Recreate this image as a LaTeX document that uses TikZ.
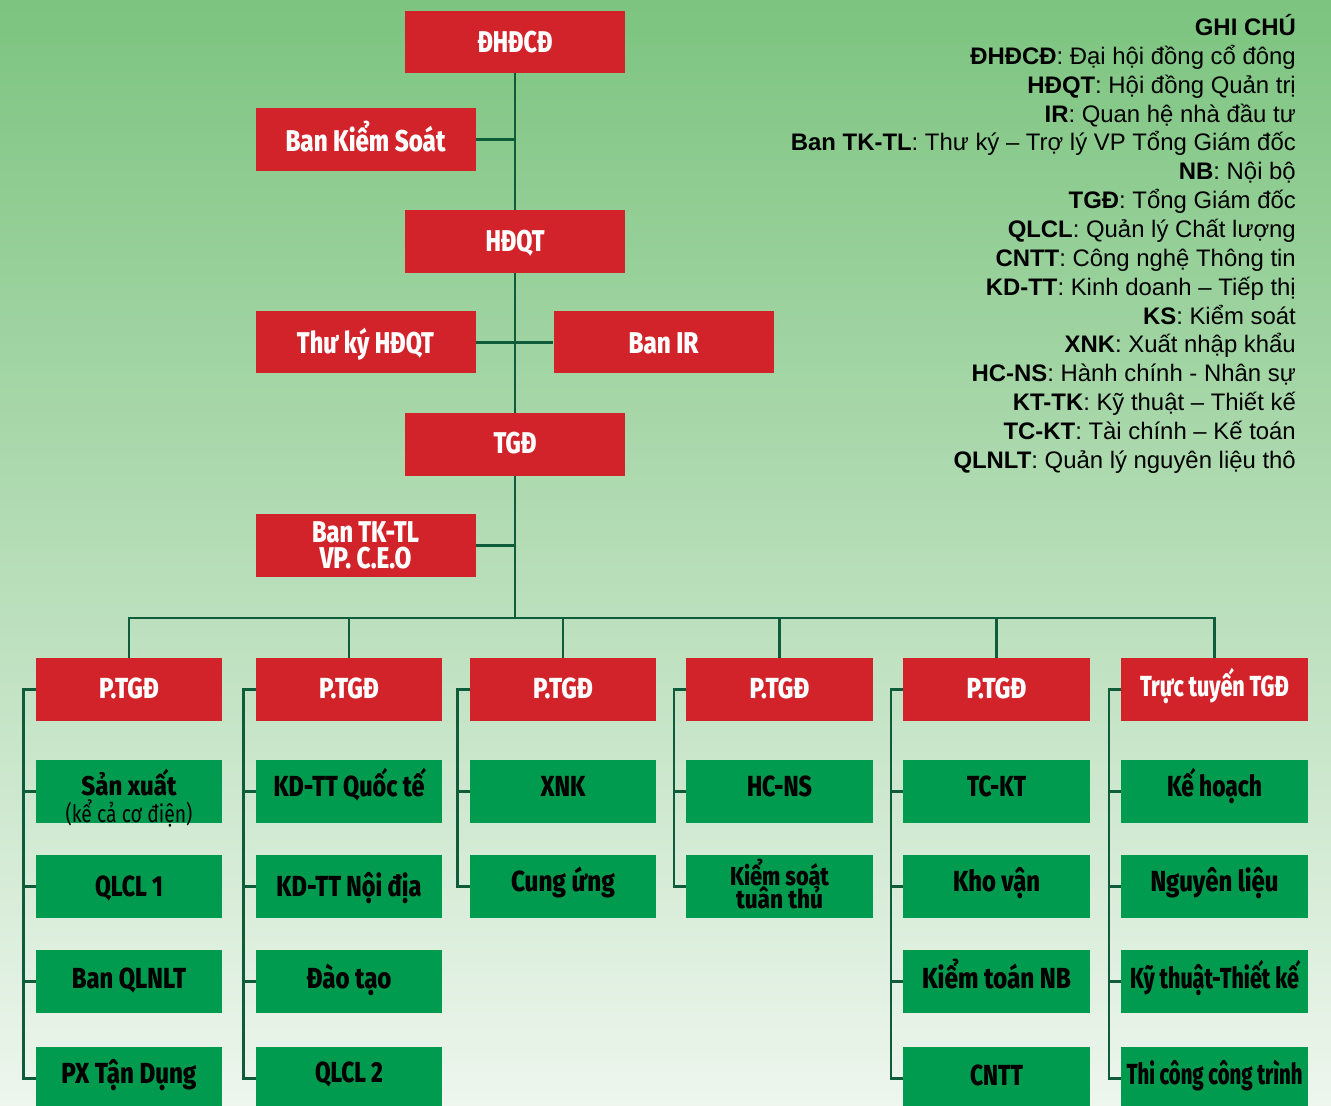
\documentclass[tikz,border=0pt]{standalone}
\usepackage{fontspec}
\setmainfont{Liberation Sans}
\newfontfamily\bxf{Fira Sans}[BoldFont={* ExtraBold}]
\usetikzlibrary{calc}
\definecolor{cred}{HTML}{D2232A}
\definecolor{cgreen}{HTML}{009B4E}
\definecolor{cline}{HTML}{0F5C3A}
\definecolor{bgtop}{HTML}{7CC47F}
\definecolor{bgmid}{HTML}{B0DCB1}
\definecolor{bgbot}{HTML}{EEF6EE}
% #1 raise of baseline, #2 target width, #3 text
\newcommand\LL[3]{\makebox[0pt]{\raisebox{#1pt}[0pt][0pt]{\resizebox{#2pt}{\height}{#3}}}}
\tikzset{
  boxbase/.style={draw=none, inner sep=0pt, text height=0pt, text depth=0pt},
  topbox/.style={boxbase, fill=cred, text=white, minimum width=220pt, minimum height=62.5pt,
    font=\bxf\bfseries\fontsize{30}{30}\selectfont},
  headbox/.style={boxbase, fill=cred, text=white, minimum width=186.5pt, minimum height=63pt,
    font=\bxf\bfseries\fontsize{29}{29}\selectfont},
  gbox/.style={boxbase, fill=cgreen, text=black, minimum width=186.5pt, minimum height=63pt,
    font=\bxf\bfseries\fontsize{29}{29}\selectfont},
  conn/.style={draw=cline, line width=2.6pt},
  legend/.style={anchor=base east, inner sep=0pt, text=black, font=\fontsize{23.9}{24}\selectfont}
}
\begin{document}
\begin{tikzpicture}[x=1pt,y=-1pt]
\useasboundingbox (0,0) rectangle (1331,1106);
\clip (0,0) rectangle (1331,1106);
\shade[top color=bgtop, middle color=bgmid, bottom color=bgbot] (0,0) rectangle (1331,1106);

% top hierarchy
\node[topbox] (dhdcd) at (515,42) {\LL{-10.5}{75}{ĐHĐCĐ}};
\node[topbox] (bks) at (365.5,139.7) {\LL{-11.5}{160}{Ban Kiểm Soát}};
\node[topbox] (hdqt) at (515,241.5) {\LL{-10}{59}{HĐQT}};
\node[topbox] (tkh) at (365.5,342.2) {\LL{-11}{137}{Thư ký HĐQT}};
\node[topbox] (ir) at (663.5,342.2) {\LL{-11}{70}{Ban IR}};
\node[topbox] (tgd) at (515,444.3) {\LL{-9}{43}{TGĐ}};
\node[topbox] (tktl) at (365.5,545.3) {\LL{3}{107}{Ban TK-TL}\LL{-23.5}{92}{VP. C.E.O}};

\coordinate (bus) at (515,618);
\draw[conn] (dhdcd.south) -- (hdqt.north);
\draw[conn] (hdqt.south) -- (tgd.north);
\draw[conn] (tgd.south) -- (bus);
\draw[conn] (bks.east) -- (bks.east -| dhdcd.south);
\draw[conn] (tkh.east) -- (ir.west);
\draw[conn] (tktl.east) -- (tktl.east -| tgd.south);

% column heads
\node[headbox] (p1) at (129,689.3) {\LL{-9}{60}{P.TGĐ}};
\node[headbox] (p2) at (349,689.3) {\LL{-9}{60}{P.TGĐ}};
\node[headbox] (p3) at (563,689.3) {\LL{-9}{60}{P.TGĐ}};
\node[headbox] (p4) at (779.5,689.3) {\LL{-9}{60}{P.TGĐ}};
\node[headbox] (p5) at (996.5,689.3) {\LL{-9}{60}{P.TGĐ}};
\node[headbox] (p6) at (1214.5,689.3) {\LL{-7.5}{149}{Trực tuyến TGĐ}};

% column 1
\node[gbox] (c11) at (129,791.3) {\LL{-4.5}{95}{\fontsize{27}{27}\selectfont Sản xuất}\LL{-31.5}{127}{\mdseries\fontsize{24}{24}\selectfont (kể cả cơ điện)}};
\node[gbox] (c12) at (129,886.3) {\LL{-9.7}{68}{QLCL 1}};
\node[gbox] (c13) at (129,981.3) {\LL{-7}{114}{Ban QLNLT}};
\node[gbox] (c14) at (129,1078.5) {\LL{-5}{135}{PX Tận Dụng}};
% column 2
\node[gbox] (c21) at (349,791.3) {\LL{-5.5}{151}{KD-TT Quốc tế}};
\node[gbox] (c22) at (349,886.3) {\LL{-9.7}{145}{KD-TT Nội địa}};
\node[gbox] (c23) at (349,981.3) {\LL{-7}{85}{Đào tạo}};
\node[gbox] (c24) at (349,1078.5) {\LL{-3.5}{68}{QLCL 2}};
% column 3
\node[gbox] (c31) at (563,791.3) {\LL{-5.5}{45}{XNK}};
\node[gbox] (c32) at (563,886.3) {\LL{-5.5}{104}{Cung ứng}};
% column 4
\node[gbox] (c41) at (779.5,791.3) {\LL{-5.5}{65}{HC-NS}};
\node[gbox] (c42) at (779.5,886.3) {\LL{1}{99}{\fontsize{26}{26}\selectfont Kiểm soát}\LL{-22}{87}{\fontsize{26}{26}\selectfont tuân thủ}};
% column 5
\node[gbox] (c51) at (996.5,791.3) {\LL{-5.5}{59}{TC-KT}};
\node[gbox] (c52) at (996.5,886.3) {\LL{-5.5}{87}{Kho vận}};
\node[gbox] (c53) at (996.5,981.3) {\LL{-7}{149}{Kiểm toán NB}};
\node[gbox] (c54) at (996.5,1078.5) {\LL{-6.5}{53}{CNTT}};
% column 6
\node[gbox] (c61) at (1214.5,791.3) {\LL{-5.5}{95}{Kế hoạch}};
\node[gbox] (c62) at (1214.5,886.3) {\LL{-5.5}{128}{Nguyên liệu}};
\node[gbox] (c63) at (1214.5,981.3) {\LL{-7}{169}{Kỹ thuật-Thiết kế}};
\node[gbox] (c64) at (1214.5,1078.5) {\LL{-6}{176}{Thi công công trình}};

% bus and drops
\draw[conn] (p1.north) -- (p1.north |- bus) -- (p6.north |- bus) -- (p6.north);
\foreach \k in {2,3,4,5} { \draw[conn] (p\k.north) -- (p\k.north |- bus); }

% brackets
\foreach \c/\last in {1/4,2/4,3/2,4/2,5/4,6/4} {
  \coordinate (b\c) at ($(p\c.west)+(-12,0)$);
  \draw[conn] (p\c.west) -- (b\c) |- (c\c\last.west);
  \foreach \r in {1,...,\last} { \draw[conn] (c\c\r.west) -- (c\c\r.west -| b\c); }
}

% legend
\foreach \b/\t [count=\i from 0] in {
  {GHI CHÚ}/{},
  {ĐHĐCĐ}/{: Đại hội đồng cổ đông},
  {HĐQT}/{: Hội đồng Quản trị},
  {IR}/{: Quan hệ nhà đầu tư},
  {Ban TK-TL}/{: Thư ký – Trợ lý VP Tổng Giám đốc},
  {NB}/{: Nội bộ},
  {TGĐ}/{: Tổng Giám đốc},
  {QLCL}/{: Quản lý Chất lượng},
  {CNTT}/{: Công nghệ Thông tin},
  {KD-TT}/{: Kinh doanh – Tiếp thị},
  {KS}/{: Kiểm soát},
  {XNK}/{: Xuất nhập khẩu},
  {HC-NS}/{: Hành chính - Nhân sự},
  {KT-TK}/{: Kỹ thuật – Thiết kế},
  {TC-KT}/{: Tài chính – Kế toán},
  {QLNLT}/{: Quản lý nguyên liệu thô}} {
  \node[legend] (leg\i) at (1296,{35.5+\i*28.85}) {\textbf{\b}\t};
}
\end{tikzpicture}
\end{document}
